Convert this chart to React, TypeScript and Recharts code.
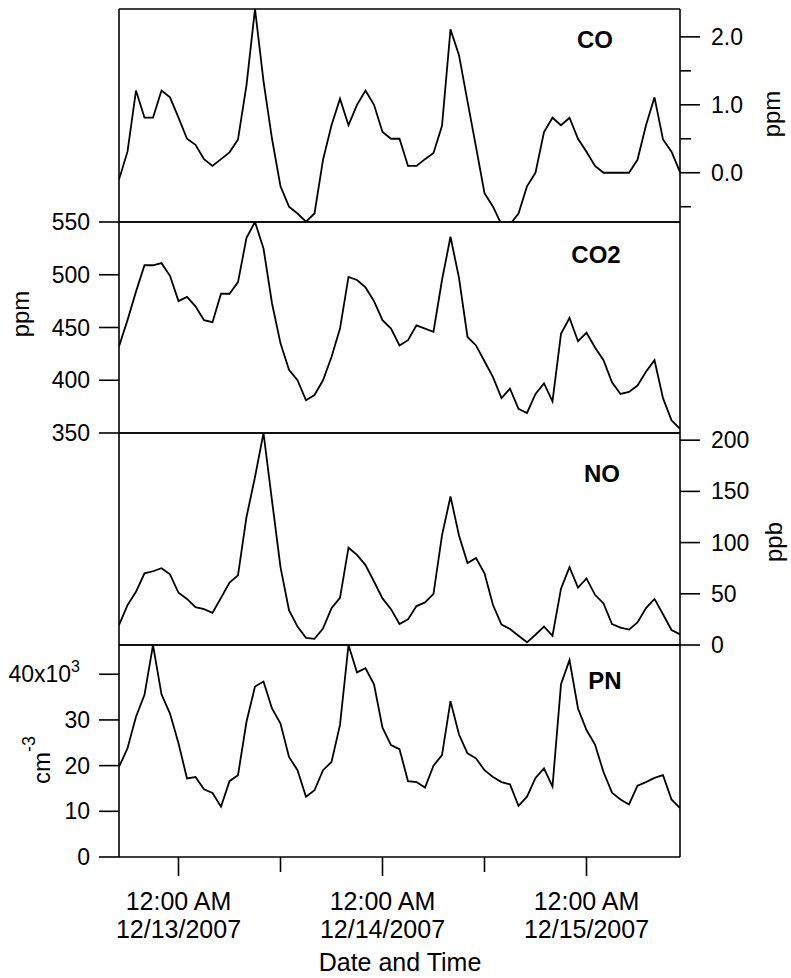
import React from "react";
import { Line, LineChart, XAxis, YAxis } from "recharts";

// hours relative to 12:00 AM 12/13/2007 (hourly samples)
const HOURS = [
  -7, -6, -5, -4, -3, -2, -1, 0, 1, 2, 3, 4, 5, 6, 7, 8, 9, 10, 11, 12, 13, 14,
  15, 16, 17, 18, 19, 20, 21, 22, 23, 24, 25, 26, 27, 28, 29, 30, 31, 32, 33,
  34, 35, 36, 37, 38, 39, 40, 41, 42, 43, 44, 45, 46, 47, 48, 49, 50, 51, 52,
  53, 54, 55, 56, 57, 58, 59,
];

// ppm
const CO = [
  -0.1, 0.31, 1.21, 0.81, 0.81, 1.21, 1.11, 0.81, 0.5, 0.41, 0.2, 0.1, 0.2, 0.3,
  0.49, 1.29, 2.41, 1.35, 0.5, -0.2, -0.5, -0.6, -0.72, -0.6, 0.19, 0.7, 1.09,
  0.7, 1.0, 1.21, 1.0, 0.6, 0.5, 0.5, 0.1, 0.1, 0.2, 0.29, 0.69, 2.11, 1.73,
  1.05, 0.38, -0.3, -0.5, -0.76, -0.76, -0.6, -0.2, 0.0, 0.6, 0.81, 0.7, 0.81,
  0.5, 0.31, 0.1, 0.0, 0.0, 0.0, 0.0, 0.19, 0.7, 1.11, 0.49, 0.31, 0.01,
];

// ppm
const CO2 = [
  432, 457, 484, 509, 509, 511, 499, 475, 479, 470, 457, 455, 482, 482, 493,
  535, 550, 525, 473, 435, 410, 400, 381, 386, 400, 422, 449, 498, 495, 488,
  475, 457, 449, 433, 438, 452, 449, 446, 495, 536, 497, 441, 433, 418, 403,
  383, 392, 373, 369, 387, 397, 380, 444, 459, 437, 445, 431, 419, 398, 387,
  389, 395, 408, 419, 383, 362, 354,
];

// ppb
const NO = [
  19.5, 39, 52, 70, 72, 75, 69, 51, 45, 37, 35, 31.5, 46, 61, 68, 125, 164, 207,
  141, 76, 34, 18, 7, 6, 16, 36, 46, 95, 88, 78, 62, 45.5, 35, 20.5, 25, 38,
  41.6, 50, 107, 145, 107, 80, 85, 70, 39, 20, 15.6, 9, 2.6, 10, 18, 9, 55, 76,
  56, 65, 49, 40.6, 20.5, 17, 15, 22, 36, 45, 30, 14.6, 10.4,
];

// cm^-3
const PN = [
  19700, 23800, 30700, 35500, 46400, 35600, 31400, 24900, 17200, 17500, 14800,
  14000, 11000, 16600, 17900, 29600, 37300, 38400, 32500, 29200, 21900, 19000,
  13200, 14600, 19000, 20800, 28900, 46400, 40400, 41300, 37800, 28300, 24500,
  23600, 16600, 16400, 15200, 20000, 22300, 34100, 26800, 22700, 21600, 19000,
  17500, 16400, 15900, 11200, 13200, 17300, 19400, 15400, 37800, 43100, 32500,
  27800, 24600, 18600, 14100, 12600, 11500, 15600, 16400, 17300, 17900, 12600,
  10700,
];

const X_TICKS = [0, 12, 24, 36, 48];
const X_LABELS: Record<number, string[]> = {
  0: ["12:00 AM", "12/13/2007"],
  24: ["12:00 AM", "12/14/2007"],
  48: ["12:00 AM", "12/15/2007"],
};
const CO_TICKS = [-0.5, 0, 0.5, 1, 1.5, 2];
const CO2_TICKS = [350, 400, 450, 500, 550];
const NO_TICKS = [0, 50, 100, 150, 200];
const PN_TICKS = [0, 10000, 20000, 30000, 40000];

const ROWS = HOURS.map((h, i) => ({ h, co: CO[i], co2: CO2[i], no: NO[i], pn: PN[i] }));

const W = 791;
const FONT = "'Liberation Sans', Arial, Helvetica, sans-serif";
const AXIS = { stroke: "#000", strokeWidth: 1.6 };
const X_DOMAIN: [number, number] = [-7, 59];

function CoTick({ x, y, payload }: any) {
  const v = payload.value;
  const major = Math.abs(v - Math.round(v)) < 1e-6;
  return (
    <g>
      <line x1={x} x2={x + (major ? 20 : 11)} y1={y} y2={y} stroke="#000" strokeWidth={1.6} />
      {major && (
        <text x={x + 31} y={y} dy={8} fontSize={23} fontFamily={FONT} textAnchor="start" fill="#000">
          {v.toFixed(1)}
        </text>
      )}
    </g>
  );
}

function NoTick({ x, y, payload }: any) {
  return (
    <g>
      <line x1={x} x2={x + 20} y1={y} y2={y} stroke="#000" strokeWidth={1.6} />
      <text x={x + 31} y={y} dy={8} fontSize={23} fontFamily={FONT} textAnchor="start" fill="#000">
        {payload.value}
      </text>
    </g>
  );
}

function Co2Tick({ x, y, payload }: any) {
  return (
    <g>
      <line x1={x - 20} x2={x} y1={y} y2={y} stroke="#000" strokeWidth={1.6} />
      <text x={x - 29} y={y} dy={8} fontSize={23} fontFamily={FONT} textAnchor="end" fill="#000">
        {payload.value}
      </text>
    </g>
  );
}

function PnTick({ x, y, payload }: any) {
  const k = payload.value / 1000;
  return (
    <g>
      <line x1={x - 20} x2={x} y1={y} y2={y} stroke="#000" strokeWidth={1.6} />
      {k === 40 ? (
        <text x={x - 39} y={y} dy={8} fontSize={23} fontFamily={FONT} textAnchor="end" fill="#000">
          40x10
          <tspan dy={-10} fontSize={16}>3</tspan>
        </text>
      ) : (
        <text x={x - 29} y={y} dy={8} fontSize={23} fontFamily={FONT} textAnchor="end" fill="#000">
          {k}
        </text>
      )}
    </g>
  );
}

function TimeTick({ x, y, payload }: any) {
  const lab = X_LABELS[payload.value];
  return (
    <g>
      <line x1={x} x2={x} y1={y} y2={y + (lab ? 19 : 15)} stroke="#000" strokeWidth={1.6} />
      {lab && (
        <text x={x} y={y} fontSize={25} fontFamily={FONT} textAnchor="middle" fill="#000">
          <tspan x={x} dy={53}>{lab[0]}</tspan>
          <tspan x={x} dy={28}>{lab[1]}</tspan>
        </text>
      )}
    </g>
  );
}

type PanelProps = {
  top: number;
  height: number;
  mTop: number;
  mBottom: number;
  xHeight: number;
  field: string;
  domain: [number, number];
  side: "left" | "right";
  ticks: number[];
  tick: React.ReactElement;
  timeAxis?: boolean;
};

function Panel(p: PanelProps) {
  const isLeft = p.side === "left";
  return (
    <div style={{ position: "absolute", left: 0, top: p.top, width: W, height: p.height }}>
      <LineChart
        width={W}
        height={p.height}
        data={ROWS}
        margin={{ top: p.mTop, right: 0, bottom: p.mBottom, left: 0 }}
      >
        <XAxis
          xAxisId="top"
          orientation="top"
          type="number"
          dataKey="h"
          domain={X_DOMAIN}
          height={1}
          tick={false}
          tickLine={false}
          axisLine={AXIS}
        />
        <XAxis
          xAxisId="bot"
          orientation="bottom"
          type="number"
          dataKey="h"
          domain={X_DOMAIN}
          allowDataOverflow
          height={p.xHeight}
          ticks={p.timeAxis ? X_TICKS : []}
          tick={p.timeAxis ? <TimeTick /> : false}
          tickLine={false}
          tickSize={0}
          tickMargin={0}
          interval={0}
          axisLine={AXIS}
        />
        <YAxis
          yAxisId="left"
          orientation="left"
          type="number"
          width={119}
          domain={p.domain}
          allowDataOverflow
          ticks={isLeft ? p.ticks : []}
          tick={isLeft ? p.tick : false}
          tickLine={false}
          tickSize={0}
          tickMargin={0}
          interval={0}
          axisLine={AXIS}
        />
        <YAxis
          yAxisId="right"
          orientation="right"
          type="number"
          width={111}
          domain={p.domain}
          allowDataOverflow
          ticks={!isLeft ? p.ticks : []}
          tick={!isLeft ? p.tick : false}
          tickLine={false}
          tickSize={0}
          tickMargin={0}
          interval={0}
          axisLine={AXIS}
        />
        <Line
          xAxisId="bot"
          yAxisId={p.side}
          type="linear"
          dataKey={p.field}
          stroke="#000"
          strokeWidth={1.8}
          dot={false}
          isAnimationActive={false}
        />
      </LineChart>
    </div>
  );
}

const TITLE = { fontFamily: FONT, fontSize: 24, fontWeight: 700, textAnchor: "middle" as const, fill: "#000" };
const UNIT = { fontFamily: FONT, fontSize: 24, textAnchor: "middle" as const, fill: "#000" };

export default function App() {
  return (
    <div style={{ position: "absolute", left: 0, top: 0, width: W, height: 978, background: "#fff", overflow: "hidden" }}>
      <Panel top={0} height={242} mTop={8} mBottom={19} xHeight={1} field="co" domain={[-0.725, 2.41]} side="right" ticks={CO_TICKS} tick={<CoTick />} />
      <Panel top={202} height={251} mTop={19} mBottom={19} xHeight={1} field="co2" domain={[350, 550]} side="left" ticks={CO2_TICKS} tick={<Co2Tick />} />
      <Panel top={413} height={252} mTop={19} mBottom={19} xHeight={1} field="no" domain={[0, 207]} side="right" ticks={NO_TICKS} tick={<NoTick />} />
      <Panel top={625} height={353} mTop={19} mBottom={0} xHeight={121} field="pn" domain={[0, 46400]} side="left" ticks={PN_TICKS} tick={<PnTick />} timeAxis />
      <svg width={W} height={978} style={{ position: "absolute", left: 0, top: 0, pointerEvents: "none" }}>
        <text x={595} y={48} {...TITLE}>CO</text>
        <text x={596} y={263} {...TITLE}>CO2</text>
        <text x={602} y={482} {...TITLE}>NO</text>
        <text x={605} y={689} {...TITLE}>PN</text>
        <text x={780} y={114} transform="rotate(-90 780 114)" {...UNIT}>ppm</text>
        <text x={29} y={314} transform="rotate(-90 29 314)" {...UNIT}>ppm</text>
        <text x={782} y={542} transform="rotate(-90 782 542)" {...UNIT}>ppb</text>
        <text x={50} y={760} transform="rotate(-90 50 760)" {...UNIT}>
          cm<tspan dy={-15} fontSize={18}>-3</tspan>
        </text>
        <text x={400} y={971} fontFamily={FONT} fontSize={25} textAnchor="middle" fill="#000">Date and Time</text>
      </svg>
    </div>
  );
}
